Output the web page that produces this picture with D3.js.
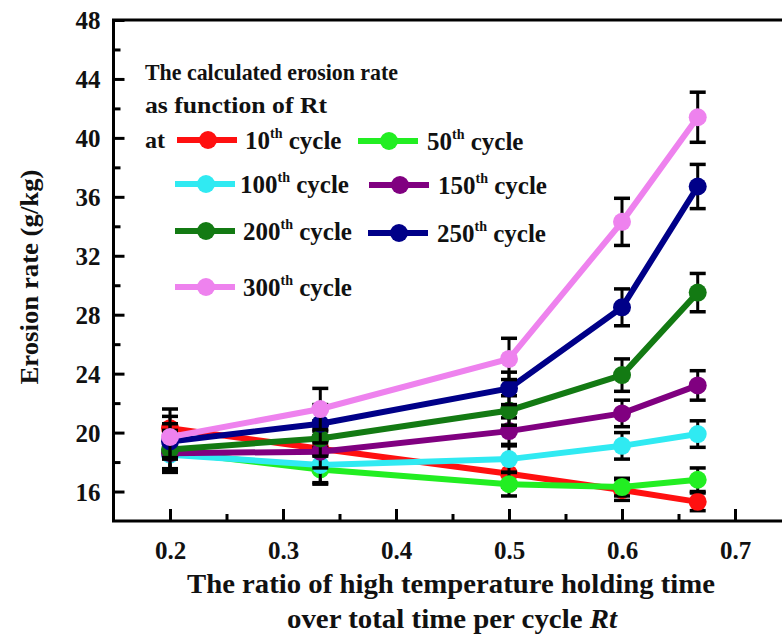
<!DOCTYPE html>
<html><head><meta charset="utf-8">
<script src="https://cdn.jsdelivr.net/npm/d3@7"></script>
<style>
html,body{margin:0;padding:0;background:#fff;overflow:hidden;}
svg{display:block;}
text{font-family:"Liberation Serif","Times New Roman",serif;font-weight:bold;fill:#111;}
</style></head><body>
<svg id="chart" width="782" height="637"></svg>
<script>
const xValues = [0.2, 0.333, 0.5, 0.6, 0.667];
const seriesNames = ["10", "50", "100", "150", "200", "250", "300"];
const seriesColors = ["#ff1010", "#22ee22", "#30eaf2", "#800080", "#137a13", "#000088", "#ee82ee"];
const v10  = [20.3, 18.9, 17.2, 16.1, 15.3];
const v50  = [18.7, 17.5, 16.5, 16.3, 16.8];
const v100 = [18.5, 17.8, 18.2, 19.1, 19.9];
const v150 = [18.6, 18.7, 20.1, 21.3, 23.2];
const v200 = [18.85, 19.6, 21.5, 23.9, 29.5];
const v250 = [19.4, 20.6, 23.0, 28.5, 36.7];
const v300 = [19.7, 21.6, 25.0, 34.3, 41.4];
const e10  = [1.3, 1.2, 0.9, 0.7, 0.6];
const e50  = [1.3, 1.0, 0.8, 0.6, 0.8];
const e100 = [1.2, 1.2, 0.9, 0.9, 0.9];
const e150 = [1.2, 1.1, 0.9, 0.9, 1.0];
const e200 = [1.3, 1.2, 1.0, 1.1, 1.3];
const e250 = [1.2, 1.3, 1.1, 1.25, 1.5];
const e300 = [1.4, 1.4, 1.4, 1.6, 1.7];
const seriesValues = [v10, v50, v100, v150, v200, v250, v300];
const seriesErrors = [e10, e50, e100, e150, e200, e250, e300];
const yTicks = [16, 20, 24, 28, 32, 36, 40, 44, 48];
const xTicks = [0.2, 0.3, 0.4, 0.5, 0.6, 0.7];
const yLabel = "Erosion rate (g/kg)";
const xLabel1 = "The ratio of high temperature holding time";
const xLabel2 = "over total time per cycle ";
const legendTitle1 = "The calculated erosion rate";
const legendTitle2 = "as function of Rt";

const svg = d3.select("#chart");
const x = d3.scaleLinear().domain([0.15, 0.75]).range([113.5, 791.5]);
const y = d3.scaleLinear().domain([14, 48]).range([521, 20]);

// frame (left, top, bottom; right edge lies outside the picture)
svg.append("path")
  .attr("d", `M${x(0.75)},${y(48)}H${x(0.15)}V${y(14)}H${x(0.75)}`)
  .attr("fill", "none").attr("stroke", "#000").attr("stroke-width", 3);

// y ticks (inward)
const yAxis = d3.axisLeft(y).tickValues(yTicks).tickSize(-11).tickPadding(13).tickFormat(d3.format("d"));
const gy = svg.append("g").attr("transform", `translate(${x(0.15)},0)`).call(yAxis);
gy.select(".domain").remove();
gy.selectAll("line").attr("stroke", "#000").attr("stroke-width", 3);
gy.selectAll("text").attr("font-size", 25).attr("fill", "#111").attr("dy", "0.34em");
const gyMinor = svg.append("g").attr("transform", `translate(${x(0.15)},0)`)
  .call(d3.axisLeft(y).tickValues(d3.range(18, 48, 4)).tickSize(-7).tickFormat(""));
gyMinor.select(".domain").remove();
gyMinor.selectAll("line").attr("stroke", "#000").attr("stroke-width", 3);

// x ticks (inward)
const xAxis = d3.axisBottom(x).tickValues(xTicks).tickSize(-12).tickPadding(20).tickFormat(d3.format(".1f"));
const gx = svg.append("g").attr("transform", `translate(0,${y(14)})`).call(xAxis);
gx.select(".domain").remove();
gx.selectAll("line").attr("stroke", "#000").attr("stroke-width", 3);
gx.selectAll("text").attr("font-size", 25).attr("fill", "#111");
const gxMinor = svg.append("g").attr("transform", `translate(0,${y(14)})`)
  .call(d3.axisBottom(x).tickValues([0.25, 0.35, 0.45, 0.55, 0.65]).tickSize(-7).tickFormat(""));
gxMinor.select(".domain").remove();
gxMinor.selectAll("line").attr("stroke", "#000").attr("stroke-width", 3);

// axis titles
svg.append("text").attr("transform", "translate(38,277) rotate(-90)").attr("text-anchor", "middle")
  .attr("font-size", 26).attr("textLength", 215).attr("lengthAdjust", "spacingAndGlyphs").text(yLabel);
svg.append("text").attr("x", 451).attr("y", 593).attr("text-anchor", "middle").attr("font-size", 27)
  .attr("textLength", 528).attr("lengthAdjust", "spacingAndGlyphs").text(xLabel1);
const t2 = svg.append("text").attr("x", 452).attr("y", 628).attr("text-anchor", "middle").attr("font-size", 27)
  .attr("textLength", 330).attr("lengthAdjust", "spacingAndGlyphs");
t2.append("tspan").text(xLabel2);
t2.append("tspan").attr("font-style", "italic").text("Rt");

// series
const line = d3.line().x((d, i) => x(xValues[i])).y(d => y(d));
seriesValues.forEach((vals, s) => {
  const g = svg.append("g");
  g.append("path").attr("d", line(vals)).attr("fill", "none").attr("stroke", seriesColors[s]).attr("stroke-width", 6);
  vals.forEach((v, i) => {
    const cx = x(xValues[i]), e = seriesErrors[s][i];
    g.append("line").attr("x1", cx).attr("x2", cx).attr("y1", y(v + e)).attr("y2", y(v - e)).attr("stroke", "#000").attr("stroke-width", 3);
    [v + e, v - e].forEach(t => g.append("line").attr("x1", cx - 8).attr("x2", cx + 8).attr("y1", y(t)).attr("y2", y(t)).attr("stroke", "#000").attr("stroke-width", 3.5));
  });
  g.selectAll("circle").data(vals).enter().append("circle")
    .attr("cx", (d, i) => x(xValues[i])).attr("cy", d => y(d)).attr("r", 9).attr("fill", seriesColors[s]);
});

// legend
svg.append("text").attr("x", 145).attr("y", 80).attr("font-size", 24).attr("textLength", 253).attr("lengthAdjust", "spacingAndGlyphs").text(legendTitle1);
svg.append("text").attr("x", 145).attr("y", 113).attr("font-size", 24).attr("textLength", 182).attr("lengthAdjust", "spacingAndGlyphs").text(legendTitle2);
svg.append("text").attr("x", 145).attr("y", 148).attr("font-size", 24).text("at");
const legendPos = [
  {lx: 177, ty: 140, tx: 245}, {lx: 358, ty: 141, tx: 427},
  {lx: 175, ty: 184, tx: 240}, {lx: 369, ty: 185, tx: 438},
  {lx: 175, ty: 231, tx: 243}, {lx: 368, ty: 233, tx: 437},
  {lx: 175, ty: 287, tx: 243}
];
seriesNames.forEach((n, s) => {
  const p = legendPos[s];
  svg.append("line").attr("x1", p.lx).attr("x2", p.lx + 60).attr("y1", p.ty).attr("y2", p.ty)
    .attr("stroke", seriesColors[s]).attr("stroke-width", 6);
  svg.append("circle").attr("cx", p.lx + 31).attr("cy", p.ty).attr("r", 9).attr("fill", seriesColors[s]);
  const t = svg.append("text").attr("x", p.tx).attr("y", p.ty + 9).attr("font-size", 25);
  t.append("tspan").text(n);
  t.append("tspan").attr("dy", -11).attr("font-size", 14).text("th");
  t.append("tspan").attr("dy", 11).text("\u00a0cycle");
});
</script>
</body></html>
